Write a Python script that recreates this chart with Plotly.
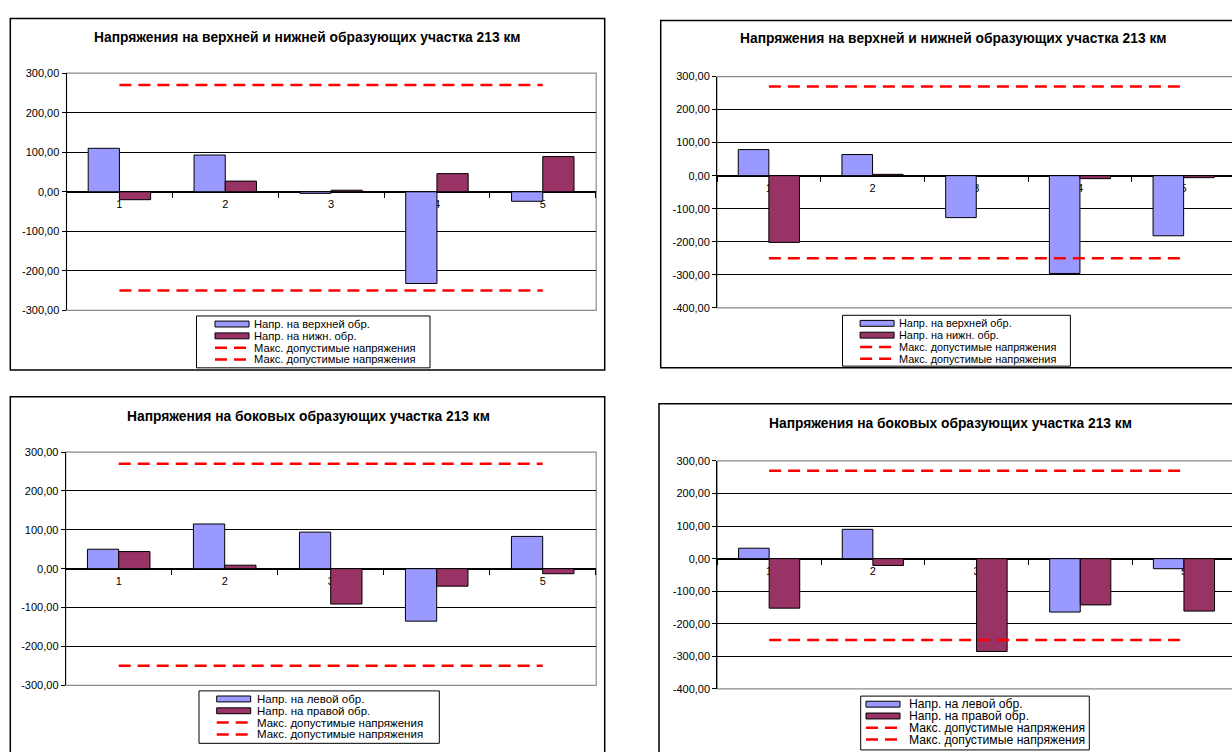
import plotly.graph_objects as go

W, H = 1232, 752

# ---------------- data ----------------
categories = ["1", "2", "3", "4", "5"]

ticks_a_vals = [-300, -200, -100, 0, 100, 200, 300]
ticks_a_text = ["-300,00", "-200,00", "-100,00", "0,00", "100,00", "200,00", "300,00"]
ticks_b_vals = [-400, -300, -200, -100, 0, 100, 200, 300]
ticks_b_text = ["-400,00", "-300,00", "-200,00", "-100,00", "0,00", "100,00", "200,00", "300,00"]

title_vertical = "Напряжения на верхней и нижней образующих участка 213 км"
title_side = "Напряжения на боковых образующих участка 213 км"
name_upper = "Напр. на верхней обр."
name_lower = "Напр. на нижн. обр."
name_left = "Напр. на левой обр."
name_right = "Напр. на правой обр."
name_limit = "Макс. допустимые напряжения"

upper_1 = [110, 93, -4, -232, -24]
lower_1 = [-20, 27, 4, 46, 89]
upper_2 = [79, 64, -127, -296, -182]
lower_2 = [-202, 4, 0, -9, -6]
left_3 = [50, 115, 94, -135, 83]
right_3 = [44, 9, -91, -45, -13]
left_4 = [32, 90, 0, -164, -31]
right_4 = [-152, -21, -285, -142, -161]
limit_max = [270, 270, 270, 270, 270]
limit_min = [-250, -250, -250, -250, -250]

# ---------------- styles / layout (pixels) ----------------
FONT = "Liberation Sans, Arial, sans-serif"
BLUE = "#9999FF"
PLUM = "#993366"
RED = "#FF0000"
DASH = "12px,7px"

panels = [
    dict(plot=(66.5, 68.3, 595.7, 309.3), yr=(-300, 300), tv=ticks_a_vals, tt=ticks_a_text,
         border=(10.3, 12.7, 604.7, 370.0), title=(307.5, 32.2, title_vertical),
         legend=(196.5, 315.0, 430.0, 367.7), sw=18.5, tx=55.5, lfs=11.2,
         names=(name_upper, name_lower), data=(upper_1, lower_1)),
    dict(plot=(717.0, 71.7, 717.0 + 5 * 103.7, 306.7), yr=(-400, 300), tv=ticks_b_vals, tt=ticks_b_text,
         border=(660.7, 14.7, 1300.0, 367.7), title=(953.0, 33.0, title_vertical),
         legend=(842.5, 314.3, 1070.4, 366.0), sw=17.6, tx=54.5, lfs=10.9,
         names=(name_upper, name_lower), data=(upper_2, lower_2)),
    dict(plot=(65.7, 453.3, 595.7, 690.3), yr=(-300, 300), tv=ticks_a_vals, tt=ticks_a_text,
         border=(10.3, 397.0, 604.7, 800.0), title=(308.5, 416.7, title_side),
         legend=(199.0, 696.0, 439.3, 749.3), sw=17.7, tx=56.0, lfs=11.5,
         names=(name_left, name_right), data=(left_3, right_3)),
    dict(plot=(717.3, 462.3, 717.3 + 5 * 103.7, 694.0), yr=(-400, 300), tv=ticks_b_vals, tt=ticks_b_text,
         border=(659.0, 404.3, 1300.0, 800.0), title=(950.0, 424.0, title_side),
         legend=(860.7, 701.3, 1089.3, 756.0), sw=5.3, tx=46.0, lfs=12.2,
         names=(name_left, name_right), data=(left_4, right_4)),
]


def X(p):
    return p / W


def Y(p):
    return 1 - p / H


fig = go.Figure()
shapes = []
annotations = []
layout_axes = {}

for i, P in enumerate(panels, start=1):
    sfx = "" if i == 1 else str(i)
    xa, ya = "x" + sfx, "y" + sfx
    x0, y0, x1, y1 = P["plot"]
    ymin, ymax = P["yr"]
    vis_right = min(x1, W)
    cat_w = (x1 - x0) / len(categories)
    xr_max = -0.5 + (vis_right - x0) / cat_w
    dom_y = [Y(y1), Y(y0)]
    zero_pos = dom_y[0] + (0 - ymin) / (ymax - ymin) * (dom_y[1] - dom_y[0])

    s1, s2 = P["data"]
    n1, n2 = P["names"]
    fig.add_trace(go.Bar(x=categories, y=s1, name=n1, marker=dict(color=BLUE, line=dict(color="black", width=1)),
                         xaxis=xa, yaxis=ya, showlegend=False))
    fig.add_trace(go.Bar(x=categories, y=s2, name=n2, marker=dict(color=PLUM, line=dict(color="black", width=1)),
                         xaxis=xa, yaxis=ya, showlegend=False))
    for lim in (limit_max, limit_min):
        fig.add_trace(go.Scatter(x=categories, y=lim, name=name_limit, mode="lines",
                                 line=dict(color=RED, width=2.5, dash=DASH),
                                 xaxis=xa, yaxis=ya, showlegend=False))

    layout_axes["xaxis" + sfx] = dict(
        domain=[X(x0), X(vis_right)], anchor="free", position=zero_pos, type="category",
        range=[-0.5, xr_max], showline=True, linecolor="black", linewidth=1,
        ticks="outside", tickson="boundaries", ticklen=5, tickcolor="black", tickwidth=1,
        showgrid=False, zeroline=False, tickfont=dict(family=FONT, size=11, color="black"),
        ticklabelstandoff=2, fixedrange=True, layer="below traces",
    )
    layout_axes["yaxis" + sfx] = dict(
        domain=dom_y, anchor=xa, range=[ymin, ymax], tickvals=P["tv"], ticktext=P["tt"],
        showline=True, linecolor="black", linewidth=1, ticks="outside", ticklen=4,
        tickcolor="black", showgrid=True, gridcolor="black", gridwidth=1,
        zeroline=True, zerolinecolor="black", zerolinewidth=1,
        tickfont=dict(family=FONT, size=11, color="black"), fixedrange=True,
    )

    # plot-area border (grey)
    shapes.append(dict(type="rect", xref="paper", yref="paper", x0=X(x0), x1=X(x1 + 0.5), y0=Y(y1), y1=Y(y0),
                       line=dict(color="#8c8c8c", width=1.2), layer="between"))
    # chart border
    bx0, by0, bx1, by1 = P["border"]
    shapes.append(dict(type="rect", xref="paper", yref="paper", x0=X(bx0), x1=X(bx1), y0=Y(by1), y1=Y(by0),
                       line=dict(color="black", width=1.5), layer="below"))
    # title
    tx, ty, ttl = P["title"]
    annotations.append(dict(x=X(tx), y=Y(ty), xref="paper", yref="paper", text=ttl, showarrow=False,
                            xanchor="center", yanchor="middle",
                            font=dict(family=FONT, size=13.8, color="black", weight="bold")))
    # custom legend
    lx0, ly0, lx1, ly1 = P["legend"]
    shapes.append(dict(type="rect", xref="paper", yref="paper", x0=X(lx0), x1=X(lx1), y0=Y(ly1), y1=Y(ly0),
                       line=dict(color="black", width=1), fillcolor="white", layer="above"))
    labels = [n1, n2, name_limit, name_limit]
    for k, lab in enumerate(labels):
        cy = ly0 + 8.2 + k * 12.0
        sx0 = lx0 + P["sw"]
        sx1 = sx0 + 34.0
        if k < 2:
            shapes.append(dict(type="rect", xref="paper", yref="paper", x0=X(sx0), x1=X(sx1),
                               y0=Y(cy + 3), y1=Y(cy - 3), fillcolor=BLUE if k == 0 else PLUM,
                               line=dict(color="black", width=1), layer="above"))
        else:
            shapes.append(dict(type="line", xref="paper", yref="paper", x0=X(sx0), x1=X(sx0 + 32),
                               y0=Y(cy), y1=Y(cy), line=dict(color=RED, width=2.5, dash=DASH), layer="above"))
        annotations.append(dict(x=X(lx0 + P["tx"]), y=Y(cy), xref="paper", yref="paper", text=lab,
                                showarrow=False, xanchor="left", yanchor="middle",
                                font=dict(family=FONT, size=P["lfs"], color="black")))

fig.update_layout(
    width=W, height=H, margin=dict(l=0, r=0, t=0, b=0),
    paper_bgcolor="white", plot_bgcolor="white",
    barmode="group", bargap=0.41, bargroupgap=0,
    showlegend=False, shapes=shapes, annotations=annotations,
    font=dict(family=FONT, color="black"),
    **layout_axes,
)

fig.write_html("out.html")
